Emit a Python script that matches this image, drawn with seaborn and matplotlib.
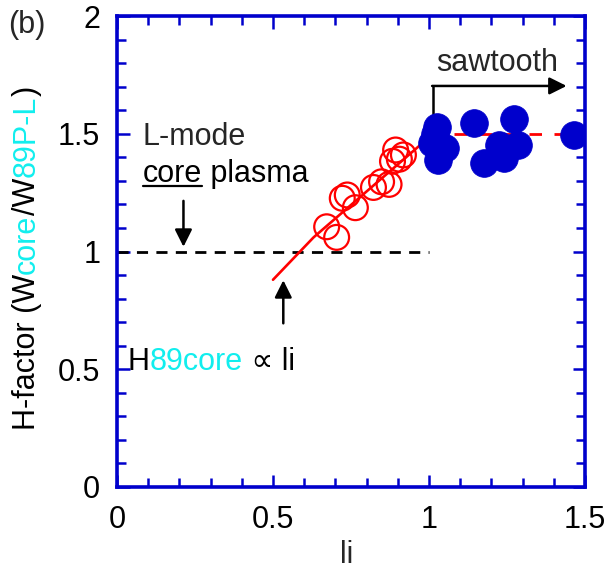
import matplotlib
matplotlib.use("Agg")
import matplotlib.pyplot as plt
import matplotlib.transforms as mtransforms
from matplotlib.lines import Line2D
from matplotlib.ticker import MultipleLocator
import pandas as pd
import seaborn as sns

# L-mode core plasma shots (open circles)
lmode_li = [0.672, 0.704, 0.722, 0.738, 0.764, 0.822, 0.848, 0.872, 0.883, 0.893, 0.905, 0.918]
lmode_h = [1.105, 1.060, 1.226, 1.240, 1.186, 1.272, 1.296, 1.285, 1.383, 1.431, 1.392, 1.410]

# sawtooth discharges (filled circles)
saw_li = [1.025, 1.009, 1.019, 1.051, 1.030, 1.144, 1.273, 1.177, 1.225, 1.240, 1.286, 1.465]
saw_h = [1.530, 1.459, 1.500, 1.438, 1.389, 1.544, 1.561, 1.375, 1.452, 1.396, 1.452, 1.495]

# H89core ∝ li trend
trend_li = [0.50, 0.63, 0.97]
trend_h = [0.88, 1.06, 1.45]

# reference levels
lref_li = [0.0, 1.0]
lref_h = [1.0, 1.0]
sref_li = [1.0, 1.5]
sref_h = [1.5, 1.5]

x_ticks = [0, 0.5, 1, 1.5]
x_ticklabels = ["0", "0.5", "1", "1.5"]
y_ticks = [0, 0.5, 1, 1.5, 2]
y_ticklabels = ["0", "0.5", "1", "1.5", "2"]

BLUE = "#0000CC"
RED = "#FF0000"
CYAN = "#11EEEE"
FS = 22

sns.set_theme(style="white")
plt.rcParams["font.family"] = ["Liberation Sans", "DejaVu Sans"]

fig = plt.figure(figsize=(6.15, 5.69), dpi=100)
ax = fig.add_axes([117 / 615, 82 / 569, 468 / 615, 471 / 569])

df_l = pd.DataFrame({"li": lmode_li, "H": lmode_h})
df_s = pd.DataFrame({"li": saw_li, "H": saw_h})
df_t = pd.DataFrame({"li": trend_li, "H": trend_h})

ax.plot(lref_li, lref_h, color="black", lw=2.0, dashes=(4.0, 3.0), zorder=1)
ax.plot(sref_li, sref_h, color=RED, lw=2.0, dashes=(4.5, 4.5), zorder=1)
sns.lineplot(data=df_t, x="li", y="H", color=RED, lw=1.9, sort=False,
             estimator=None, ax=ax, zorder=2)
sns.scatterplot(data=df_l, x="li", y="H", s=320, marker="o",
                facecolors="none", edgecolor=RED, linewidth=1.6, ax=ax, zorder=3)
sns.scatterplot(data=df_s, x="li", y="H", s=400, marker="o",
                color=BLUE, edgecolor=BLUE, linewidth=0.5, ax=ax, zorder=4)

ax.set_xlim(0, 1.5)
ax.set_ylim(0, 2)
ax.set_xticks(x_ticks)
ax.set_xticklabels(x_ticklabels)
ax.set_yticks(y_ticks)
ax.set_yticklabels(y_ticklabels)
ax.xaxis.set_minor_locator(MultipleLocator(0.1))
ax.yaxis.set_minor_locator(MultipleLocator(0.1))
ax.tick_params(which="both", direction="in", top=True, right=True,
               bottom=True, left=True, color=BLUE, width=1.8)
ax.tick_params(which="major", length=9, labelsize=FS, labelcolor="black")
ax.tick_params(axis="x", which="major", pad=13)
ax.tick_params(axis="y", which="major", pad=12)
ax.tick_params(which="minor", length=6.5)
for sp in ax.spines.values():
    sp.set_color(BLUE)
    sp.set_linewidth(2.6)

ax.set_xlabel("li", fontsize=FS)
ax.xaxis.set_label_coords(0.491, -0.112)
ax.set_ylabel("")

renderer = fig.canvas.get_renderer()


def multicolor(x, y, parts, transform, vertical=False, **kw):
    """Draw consecutive text pieces in different colours; return artists."""
    artists = []
    offset = 0.0
    for txt, col in parts:
        if vertical:
            tr = mtransforms.offset_copy(transform, fig=fig, y=offset, units="dots")
            t = fig.text(x, y, txt, color=col, transform=tr, rotation=90,
                         ha="center", va="bottom", fontsize=FS, **kw)
        else:
            tr = mtransforms.offset_copy(transform, fig=fig, x=offset, units="dots")
            t = ax.text(x, y, txt, color=col, transform=tr,
                        ha="left", va="baseline", fontsize=FS, **kw)
        bb = t.get_window_extent(renderer)
        offset += bb.height if vertical else bb.width
        artists.append(t)
    return artists


# multicolour y-axis title, drawn bottom-to-top
pix = mtransforms.IdentityTransform()
multicolor(27, 139, [("H-factor (W", "black"), ("core", CYAN), ("/W", "black"),
                     ("89P-L", CYAN), (")", "black")], pix, vertical=True)

# panel tag
fig.text(8 / 615, 1 - 10 / 569, "(b)", fontsize=FS, ha="left", va="top")

# L-mode annotation
ax.text(0.082, 1.452, "L-mode", fontsize=FS, ha="left", va="baseline")
arts = multicolor(0.082, 1.295, [("core", "black"), (" plasma", "black")], ax.transData)
bb = arts[0].get_window_extent(renderer)
base_y = ax.transData.transform((0.082, 1.295))[1]
fig.add_artist(Line2D([bb.x0, bb.x1], [base_y - 3.5, base_y - 3.5],
                      transform=pix, color="black", lw=1.6))
ax.annotate("", xy=(0.213, 1.02), xytext=(0.213, 1.215),
            arrowprops=dict(arrowstyle="-|>", color="black", lw=1.8,
                            mutation_scale=26, shrinkA=0, shrinkB=0))

# trend annotation
multicolor(0.035, 0.497, [("H", "black"), ("89core", CYAN), (" \u221d li", "black")],
           ax.transData)
ax.annotate("", xy=(0.533, 0.878), xytext=(0.533, 0.695),
            arrowprops=dict(arrowstyle="-|>", color="black", lw=1.8,
                            mutation_scale=26, shrinkA=0, shrinkB=0))

# sawtooth annotation
ax.text(1.218, 1.765, "sawtooth", fontsize=FS, ha="center", va="baseline")
ax.plot([1.013, 1.013], [1.545, 1.703], color="black", lw=1.8)
ax.annotate("", xy=(1.441, 1.703), xytext=(1.010, 1.703),
            arrowprops=dict(arrowstyle="-|>", color="black", lw=1.8,
                            mutation_scale=26, shrinkA=0, shrinkB=0))

fig.savefig("out.png", dpi=100)
